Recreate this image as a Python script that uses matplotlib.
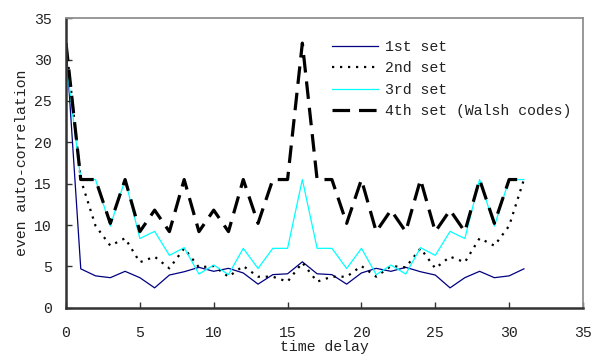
import matplotlib
matplotlib.use("Agg")
import matplotlib.pyplot as plt

delay = list(range(32))
set1 = [32, 4.7, 3.85, 3.63, 4.4, 3.63, 2.4, 3.95, 4.35, 4.88, 4.4, 4.76, 4.2, 2.85, 4.0, 4.1,
        5.55, 4.1, 4.0, 2.85, 4.2, 4.76, 4.4, 4.88, 4.35, 3.95, 2.4, 3.63, 4.4, 3.63, 3.85, 4.7]
set2 = [32, 15.5, 9.9, 7.5, 8.4, 5.5, 6.17, 4.76, 7.18, 4.88, 5.04, 3.75, 5.04, 3.75, 3.75, 3.15,
        5.45, 3.15, 3.75, 3.75, 5.04, 3.75, 5.04, 4.88, 7.18, 4.76, 6.17, 5.5, 8.4, 7.5, 9.9, 15.5]
set3 = [30, 15.5, 15.5, 9.88, 15.5, 8.37, 9.23, 6.33, 7.26, 4.07, 5.16, 4.0, 7.18, 4.74, 7.18, 7.18,
        15.5, 7.18, 7.18, 4.74, 7.18, 4.0, 5.16, 4.07, 7.26, 6.33, 9.23, 8.37, 15.5, 9.88, 15.5, 15.5]
set4 = [32, 15.5, 15.5, 10.2, 15.5, 9.2, 11.8, 9.2, 15.5, 9.2, 11.8, 9.2, 15.5, 10.2, 15.5, 15.5,
        32, 15.5, 15.5, 10.2, 15.5, 9.2, 11.8, 9.2, 15.5, 9.2, 11.8, 9.2, 15.5, 10.2, 15.5, 15.5]
labels = ["1st set", "2nd set", "3rd set", "4th set (Walsh codes)"]
xticks = [0, 5, 10, 15, 20, 25, 30, 35]
yticks = [0, 5, 10, 15, 20, 25, 30, 35]

plt.rcParams['font.family'] = ['Liberation Mono', 'DejaVu Sans Mono']
fs = 10.7
txt = '#222222'

fig = plt.figure(figsize=(5.95, 3.59), dpi=100)
ax = fig.add_axes([66/595, 1 - 307.7/359, 517/595, 289.4/359])

ax.plot(delay, set1, color='#000080', lw=0.9, label=labels[0])
ax.plot(delay, set2, color='black', lw=1.6, linestyle=(0, (1, 2.6)), label=labels[1])
ax.plot(delay, set3, color='#00FFFF', lw=0.9, label=labels[2])
ax.plot(delay, set4, color='black', lw=2.3, linestyle=(0, (5.5, 2.8)), label=labels[3])

ax.set_xlim(0, 35)
ax.set_ylim(0, 35)
ax.set_xticks(xticks)
ax.set_yticks(yticks)
ax.tick_params(direction='in', length=4, width=1, colors='#333333', labelcolor=txt,
               labelsize=fs, top=False, right=False)
ax.tick_params(axis='x', pad=13.5)
ax.tick_params(axis='y', pad=10)

for s in ['left', 'bottom']:
    ax.spines[s].set_color('#333333')
    ax.spines[s].set_linewidth(1.8)
for s in ['top', 'right']:
    ax.spines[s].set_color('#909090')
    ax.spines[s].set_linewidth(1.3)

ax.set_xlabel('time delay', fontsize=fs, color=txt, labelpad=0)
ax.set_ylabel('even auto-correlation', fontsize=fs, color=txt, labelpad=4)

ax.legend(loc='upper left', bbox_to_anchor=((332-66)/517, (307.7-40)/289.4),
          frameon=False, fontsize=fs, handlelength=3.1, handletextpad=0.45,
          labelspacing=0.5, borderpad=0, borderaxespad=0, labelcolor=txt)

fig.savefig('out.png', dpi=100)
